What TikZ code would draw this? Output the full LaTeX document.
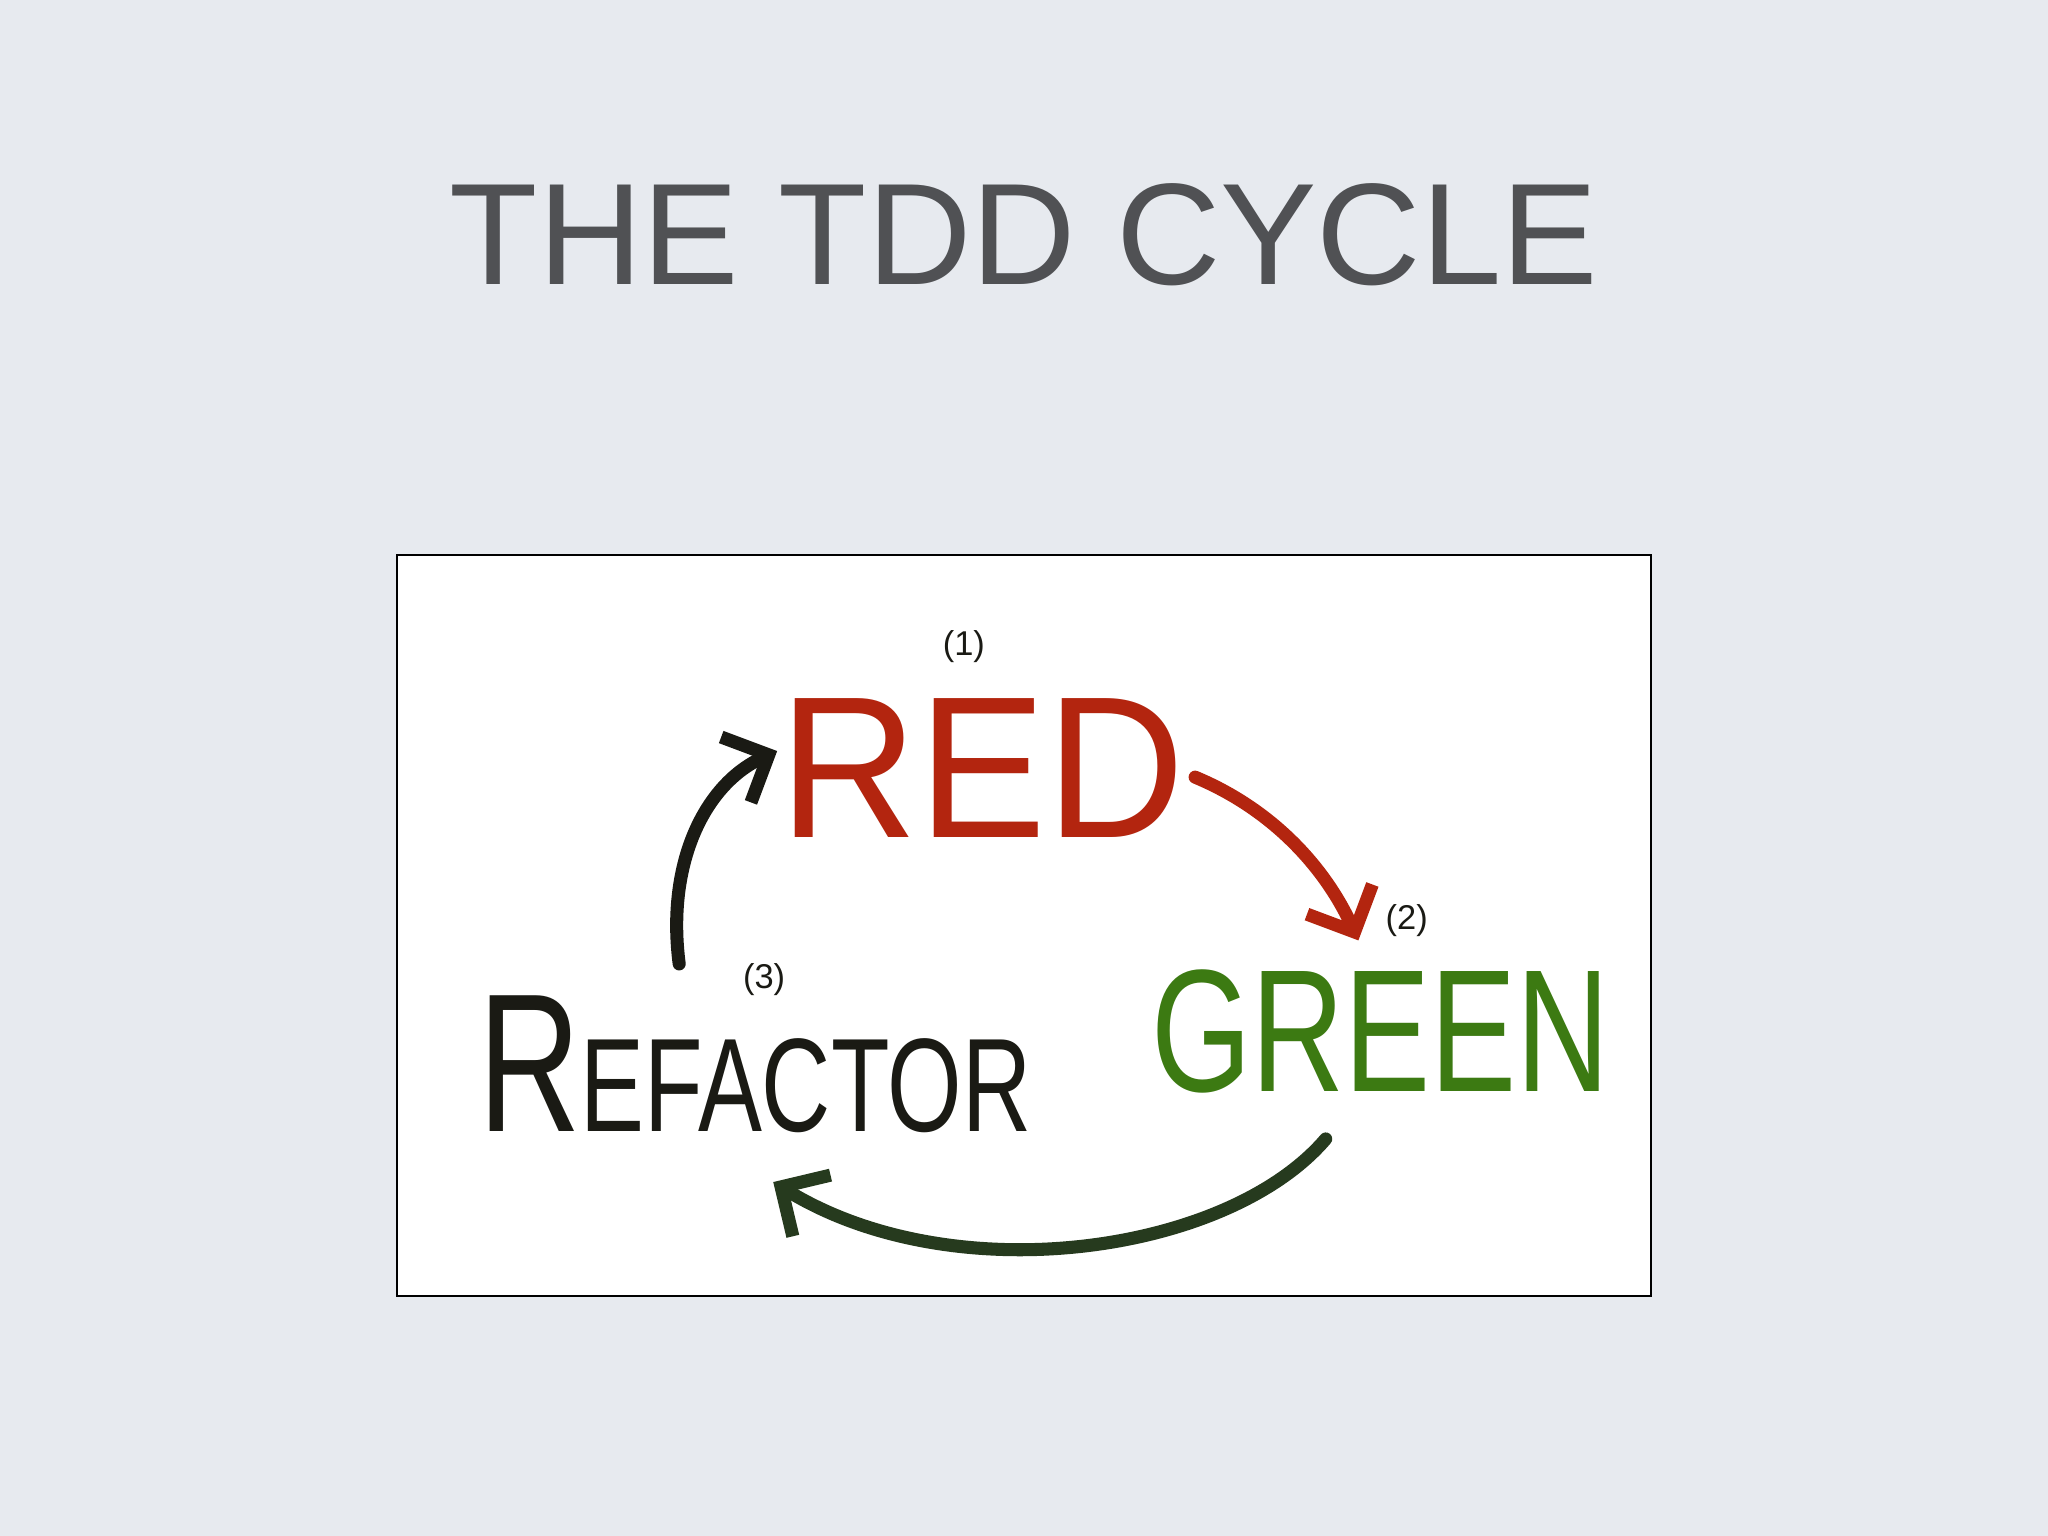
\documentclass[tikz,border=0pt]{standalone}
\usepackage{fontspec}
\setmainfont{Liberation Sans}
\usetikzlibrary{arrows.meta}
\definecolor{bg}{HTML}{E7EAEF}
\definecolor{titlegrey}{HTML}{505154}
\definecolor{hred}{HTML}{B3250F}
\definecolor{hgreen}{HTML}{3C7A12}
\definecolor{hdgreen}{HTML}{263A1E}
\definecolor{hblack}{HTML}{1A1A14}
\tikzset{
  word/.style={inner sep=0pt, anchor=center},
  cyc/.style={line width=0.2cm, line cap=round, -{Straight Barb[length=0.55cm,width=1.1cm,line width=0.2cm]}},
  num/.style={inner sep=0pt, font=\fontsize{15}{15}\selectfont}
}
\begin{document}
\begin{tikzpicture}[x=0.02cm,y=-0.02cm]
\useasboundingbox (0,0) rectangle (1568,1176);
\fill[bg] (0,0) rectangle (1568,1176);
\node[word, text=titlegrey, font=\fontsize{63}{63}\selectfont] (title) at (784,180) {THE TDD CYCLE};
\draw[fill=white, draw=black, line width=0.8pt] (304,425) rectangle (1264,992);
\node[word, text=hred, font=\fontsize{88}{88}\selectfont, xscale=0.95] (red) at (752,588) {RED};
\node[num, text=hblack] (n1) at (738,495) {(1)};
\node[word, text=hgreen, font=\fontsize{76}{76}\selectfont, xscale=0.74] (green) at (1057,790) {GREEN};
\node[num, text=hblack] (n2) at (1077,705) {(2)};
\node[word, text=hblack, font=\fontsize{58}{58}\selectfont, xscale=0.72] (refactor) at (578,815) {\fontsize{86}{86}\selectfont R\fontsize{58}{58}\selectfont EFACTOR};
\node[num, text=hblack] (n3) at (585,750) {(3)};
\coordinate (a1s) at (915,595);
\coordinate (a1e) at (1040,720);
\draw[cyc, draw=hred] (a1s) .. controls (975,620) and (1015,665) .. (a1e);
\coordinate (a2s) at (1015,872);
\coordinate (a2e) at (592,905);
\draw[cyc, draw=hdgreen] (a2s) .. controls (940,960) and (730,990) .. (a2e);
\coordinate (a3s) at (520,738);
\coordinate (a3e) at (595,575);
\draw[cyc, draw=hblack] (a3s) .. controls (510,660) and (540,600) .. (a3e);
\end{tikzpicture}
\end{document}
